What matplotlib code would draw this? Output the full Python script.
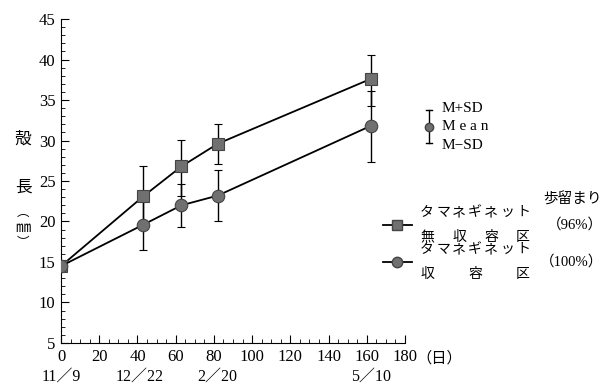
import numpy as np
import matplotlib.pyplot as plt
from matplotlib.ticker import MultipleLocator

plt.rcParams['font.family'] = ['Liberation Serif', 'Noto Sans CJK JP']

# days after 11/9
days = [0, 43, 63, 82, 162]
# タマネギネット無収容区 (square)
mean_a = [14.5, 23.1, 26.8, 29.6, 37.6]
lo_a   = [14.5, 19.3, 23.2, 27.1, 34.3]
hi_a   = [14.5, 26.9, 30.1, 32.0, 40.6]
# タマネギネット収容区 (circle)
mean_b = [14.5, 19.6, 22.0, 23.2, 31.8]
lo_b   = [14.5, 16.5, 19.3, 20.0, 27.4]
hi_b   = [14.5, 22.7, 24.6, 26.4, 36.1]

date_pos = [0, 41, 82, 162]
date_lbl = ["11／9", "12／22", "2／20", "5／10"]

GRAY = '#707070'
W, H = 606, 384


def spaced(text, x0, x1, y, fs):
    # spread characters evenly between x0 and x1 (pixels)
    n = len(text)
    step = (x1 - x0) / (n - 1) if n > 1 else 0
    for i, ch in enumerate(text):
        fig.text((x0 + i * step) / W, 1 - y / H, ch, fontsize=fs, ha='center', va='center')


fig = plt.figure(figsize=(6.06, 3.84), dpi=100)
ax = fig.add_axes([0.1007, 0.1068, 0.5677, 0.8437])

for m, lo, hi, mk in [(mean_a, lo_a, hi_a, 's'), (mean_b, lo_b, hi_b, 'o')]:
    m = np.array(m)
    yerr = [m - np.array(lo), np.array(hi) - m]
    ax.errorbar(days, m, yerr=yerr, fmt='-', color='black', lw=1.3,
                elinewidth=1.0, capsize=3, capthick=1.0,
                marker=mk, markersize=9, markerfacecolor=GRAY,
                markeredgecolor='#444444', markeredgewidth=0.8, zorder=3)

ax.set_xlim(0, 180)
ax.set_ylim(5, 45)
ax.spines['top'].set_visible(False)
ax.spines['right'].set_visible(False)
ax.xaxis.set_major_locator(MultipleLocator(20))
ax.xaxis.set_minor_locator(MultipleLocator(5))
ax.yaxis.set_major_locator(MultipleLocator(5))
ax.yaxis.set_minor_locator(MultipleLocator(1))
ax.tick_params(which='both', direction='in', labelsize=12)
ax.tick_params(which='major', length=6)
ax.tick_params(which='minor', length=3)
ax.tick_params(axis='x', pad=4)
ax.tick_params(axis='y', pad=4)

ax.text(186, 3.1, "（日）", fontsize=11, ha='left', va='center')
for p, l in zip(date_pos, date_lbl):
    ax.text(p, 0.8, l, fontsize=11.5, ha='center', va='center')

# y label (vertical)
fig.text(23 / W, 1 - 140 / H, "殻", fontsize=12, ha='center', va='center')
fig.text(23 / W, 1 - 188 / H, "長", fontsize=12, ha='center', va='center')
fig.text(23 / W, 1 - 213 / H, "︵", fontsize=9, ha='center', va='center')
fig.text(23 / W, 1 - 228 / H, "㎜", fontsize=11, ha='center', va='center')
fig.text(23 / W, 1 - 243 / H, "︶", fontsize=9, ha='center', va='center')

# error bar key
kx = 429 / W
fig.lines.append(plt.Line2D([kx, kx], [1 - 110 / H, 1 - 143 / H], color='black', lw=1.0,
                            transform=fig.transFigure))
for yy in (110, 143):
    fig.lines.append(plt.Line2D([kx - 3 / W, kx + 3 / W], [1 - yy / H] * 2, color='black',
                                lw=1.0, transform=fig.transFigure))
fig.lines.append(plt.Line2D([kx], [1 - 127 / H], marker='o', markersize=6, markerfacecolor=GRAY,
                            markeredgecolor='#444444', transform=fig.transFigure))
fig.text(442 / W, 1 - 109 / H, "M+SD", fontsize=11, ha='left', va='center')
fig.text(442 / W, 1 - 127 / H, "M e a n", fontsize=11, ha='left', va='center')
fig.text(442 / W, 1 - 145 / H, "M−SD", fontsize=11, ha='left', va='center')

# series legend
fig.text(543 / W, 1 - 200 / H, "歩留まり", fontsize=10.5, ha='left', va='center')
for yy, mk, l1, l2, pct in [(225, 's', "タマネギネット", "無収容区", "（96%）"),
                            (262, 'o', "タマネギネット", "収容区", "（100%）")]:
    fig.lines.append(plt.Line2D([383 / W, 412 / W], [1 - yy / H] * 2, color='black', lw=1.3,
                                transform=fig.transFigure))
    fig.lines.append(plt.Line2D([397 / W], [1 - yy / H], marker=mk, markersize=7.5,
                                markerfacecolor=GRAY, markeredgecolor='#444444',
                                transform=fig.transFigure))
    spaced(l1, 427, 523, yy - 12.5, 10)
    spaced(l2, 427, 523, yy + 12.5, 10)
    fig.text(603 / W, 1 - yy / H, pct, fontsize=10.5, ha='right', va='center')

fig.savefig("out.png", dpi=100)
